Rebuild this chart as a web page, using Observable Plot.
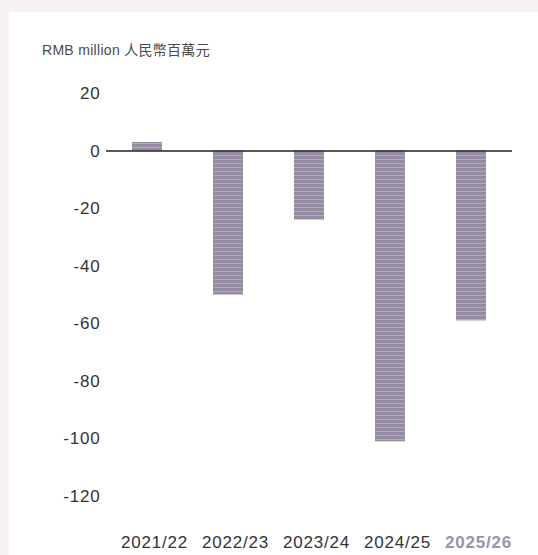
<!DOCTYPE html>
<html>
<head>
<meta charset="utf-8">
<script src="https://cdn.jsdelivr.net/npm/d3@7"></script>
<script src="https://cdn.jsdelivr.net/npm/@observablehq/plot@0.6"></script>
<style>
  html, body { margin: 0; padding: 0; }
  body { width: 538px; height: 555px; background: #f6f1f4; position: relative; overflow: hidden; font-family: "Liberation Sans", Arial, sans-serif; }
  #card { position: absolute; left: 9px; top: 12px; right: 0; bottom: 0; background: #ffffff; }
  #title { position: absolute; left: 42px; top: 39px; font-size: 14px; color: #4a4a4a; letter-spacing: 0.3px; font-family: "Liberation Sans", "Noto Sans CJK TC", sans-serif; }
  #chart { position: absolute; left: 0; top: 0; }
  #chart text { letter-spacing: 0.8px; }
</style>
</head>
<body>
<div id="card"></div>
<div id="title">RMB million 人民幣百萬元</div>
<div id="chart"></div>
<script>
const years = ["2021/22", "2022/23", "2023/24", "2024/25", "2025/26"];
const values = [3, -50, -24, -101, -59];
const yTicks = [20, 0, -20, -40, -60, -80, -100, -120];

const data = years.map((y, i) => ({year: y, value: values[i]}));

const chart = Plot.plot({
  width: 538,
  height: 555,
  marginLeft: 106,
  marginRight: 26,
  marginTop: 93,
  marginBottom: 59,
  style: {background: "transparent", fontFamily: "Liberation Sans, Arial, sans-serif", fontSize: "17px", color: "#333"},
  x: {domain: years, paddingInner: 0.63, paddingOuter: 0.315, label: null},
  y: {domain: [-120, 20], label: null},
  marks: [
    Plot.barY(data, {x: "year", y: "value", fill: "url(#stripes)"}),
    Plot.ruleY([0], {stroke: "#222", strokeWidth: 1.5}),
    Plot.axisY({ticks: yTicks, tickFormat: d => String(d), tickSize: 0, tickPadding: 6, label: null, fontSize: 17, fill: "#333"}),
    Plot.axisX({tickSize: 0, tickPadding: 39, dx: 7, label: null, fontSize: 17, fill: "#333"})
  ]
});

const svg = d3.select(chart);
const defs = svg.insert("defs", ":first-child");
const pat = defs.append("pattern")
  .attr("id", "stripes")
  .attr("patternUnits", "userSpaceOnUse")
  .attr("width", 8).attr("height", 4);
pat.append("rect").attr("width", 8).attr("height", 4).attr("fill", "#958ca1");
pat.append("rect").attr("y", 3).attr("width", 8).attr("height", 1).attr("fill", "#b3acbc");

// highlight the last year label
svg.selectAll("g[aria-label='x-axis tick label'] text")
  .filter(function() { return this.textContent === "2025/26"; })
  .attr("fill", "#9b91a9")
  .attr("font-weight", "bold");

document.getElementById("chart").appendChild(chart);
</script>
</body>
</html>
